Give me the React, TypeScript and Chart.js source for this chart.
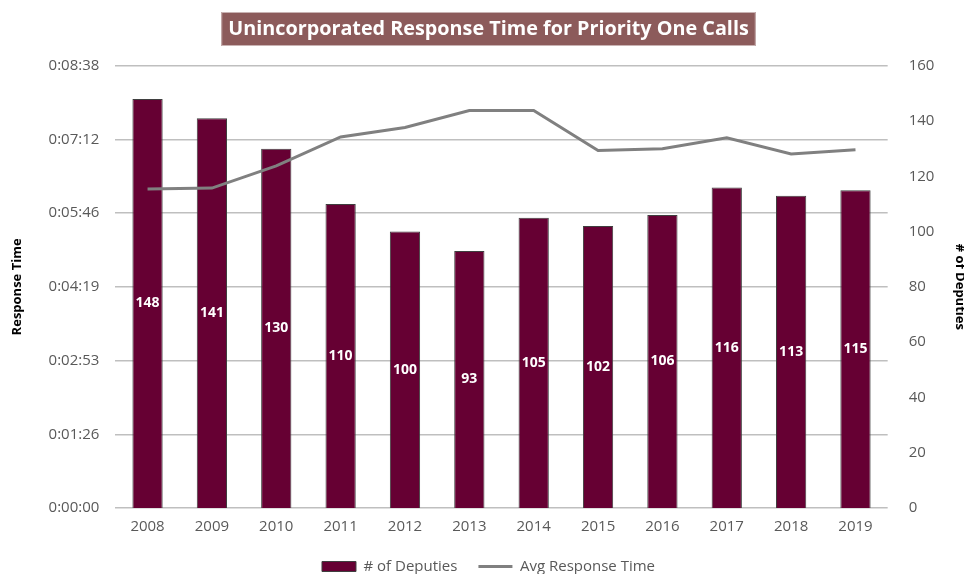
import React, { useEffect, useRef } from "react";
import { Chart, registerables } from "chart.js";

Chart.register(...registerables);

const years = ["2008", "2009", "2010", "2011", "2012", "2013", "2014", "2015", "2016", "2017", "2018", "2019"];
const deputies = [148, 141, 130, 110, 100, 93, 105, 102, 106, 116, 113, 115];
// average response time in seconds
const responseSeconds = [374, 375, 401, 435, 446, 466, 466, 419, 421, 434, 415, 420];
const leftMax = 518.4;
const leftStep = 86.4;
const rightMax = 160;
const rightStep = 20;

const FONT = "'Open Sans', 'Noto Sans', sans-serif";
const MAROON = "#660033";
const LINE_GRAY = "#808080";
const TEXT_GRAY = "#595959";

function fmt(sec: number): string {
  const s = Math.round(sec);
  const h = Math.floor(s / 3600);
  const m = Math.floor((s % 3600) / 60);
  const ss = s % 60;
  return `${h}:${String(m).padStart(2, "0")}:${String(ss).padStart(2, "0")}`;
}

const titleBoxPlugin = {
  id: "titleBox",
  beforeDraw(chart: any) {
    const tb = chart.titleBlock;
    if (!tb) return;
    const ctx = chart.ctx;
    const font = tb.options.font;
    ctx.save();
    ctx.font = `${font.weight} ${font.size}px ${font.family}`;
    const w = ctx.measureText(tb.options.text).width;
    const cx = (tb.left + tb.right) / 2;
    const padX = 7;
    const top = 12;
    const h = 34;
    ctx.fillStyle = "#8c5b5b";
    ctx.fillRect(cx - w / 2 - padX, top, w + padX * 2, h);
    ctx.strokeStyle = "#c9b3b3";
    ctx.lineWidth = 1;
    ctx.strokeRect(cx - w / 2 - padX + 0.5, top + 0.5, w + padX * 2 - 1, h - 1);
    ctx.restore();
  },
};

const barLabelPlugin = {
  id: "barLabels",
  afterDatasetsDraw(chart: any) {
    const meta = chart.getDatasetMeta(0);
    const ctx = chart.ctx;
    ctx.save();
    ctx.font = `bold 14px ${FONT}`;
    ctx.fillStyle = "#ffffff";
    ctx.textAlign = "center";
    ctx.textBaseline = "middle";
    meta.data.forEach((el: any, i: number) => {
      const { x, y, base } = el.getProps(["x", "y", "base"], true);
      ctx.fillText(String(deputies[i]), x, (y + base) / 2);
    });
    ctx.restore();
  },
};

export default function App() {
  const ref = useRef<HTMLCanvasElement | null>(null);

  useEffect(() => {
    document.body.style.margin = "0";
    if (!ref.current) return;
    const chart = new Chart(ref.current, {
      type: "bar",
      data: {
        labels: years,
        datasets: [
          {
            type: "bar",
            label: "# of Deputies",
            data: deputies,
            yAxisID: "y1",
            backgroundColor: MAROON,
            borderColor: "#3f3f3f",
            borderWidth: 1,
            barPercentage: 0.47,
            categoryPercentage: 1,
            order: 2,
            pointStyle: "rect",
          } as any,
          {
            type: "line",
            label: "Avg Response Time",
            data: responseSeconds,
            yAxisID: "y",
            borderColor: LINE_GRAY,
            backgroundColor: LINE_GRAY,
            borderWidth: 3,
            pointRadius: 0,
            tension: 0,
            order: 1,
            pointStyle: "line",
          } as any,
        ],
      },
      options: {
        animation: false,
        responsive: false,
        layout: { padding: { left: 9, right: -4, top: 4, bottom: -10 } },
        plugins: {
          title: {
            display: true,
            text: "Unincorporated Response Time for Priority One Calls",
            color: "#ffffff",
            font: { family: FONT, size: 19.8, weight: "bold" },
            padding: { top: 13, bottom: 25 },
          },
          legend: {
            position: "bottom",
            labels: {
              usePointStyle: true,
              pointStyleWidth: 34,
              boxHeight: 10,
              color: TEXT_GRAY,
              font: { family: FONT, size: 15 },
              padding: 21,
              sort: (a: any, b: any) => a.datasetIndex - b.datasetIndex,
            },
          },
          tooltip: { enabled: false },
        },
        scales: {
          x: {
            grid: { display: false },
            border: { display: false },
            ticks: { color: TEXT_GRAY, font: { family: FONT, size: 15 }, padding: 2 },
          },
          y: {
            position: "left",
            min: 0,
            max: leftMax,
            ticks: {
              stepSize: leftStep,
              color: TEXT_GRAY,
              font: { family: FONT, size: 15 },
              padding: 16,
              callback: (v: any) => fmt(Number(v)),
            },
            grid: { color: "#bfbfbf", drawTicks: false, lineWidth: 1.5 },
            border: { display: false },
            title: {
              display: true,
              text: "Response Time",
              color: "#000000",
              font: { family: FONT, size: 13, weight: "bold" },
              padding: { top: 0, bottom: 8 },
            },
          },
          y1: {
            position: "right",
            min: 0,
            max: rightMax,
            ticks: {
              stepSize: rightStep,
              color: TEXT_GRAY,
              font: { family: FONT, size: 15 },
              padding: 13,
            },
            grid: { display: false },
            border: { display: false },
            title: {
              display: true,
              text: "# of Deputies",
              color: "#000000",
              font: { family: FONT, size: 13, weight: "bold" },
              padding: { top: 0, bottom: 5 },
            },
          },
        },
      },
      plugins: [titleBoxPlugin, barLabelPlugin],
    });
    return () => chart.destroy();
  }, []);

  return (
    <div style={{ width: 964, height: 574 }}>
      <canvas ref={ref} width={964} height={574} style={{ display: "block" }} />
    </div>
  );
}
